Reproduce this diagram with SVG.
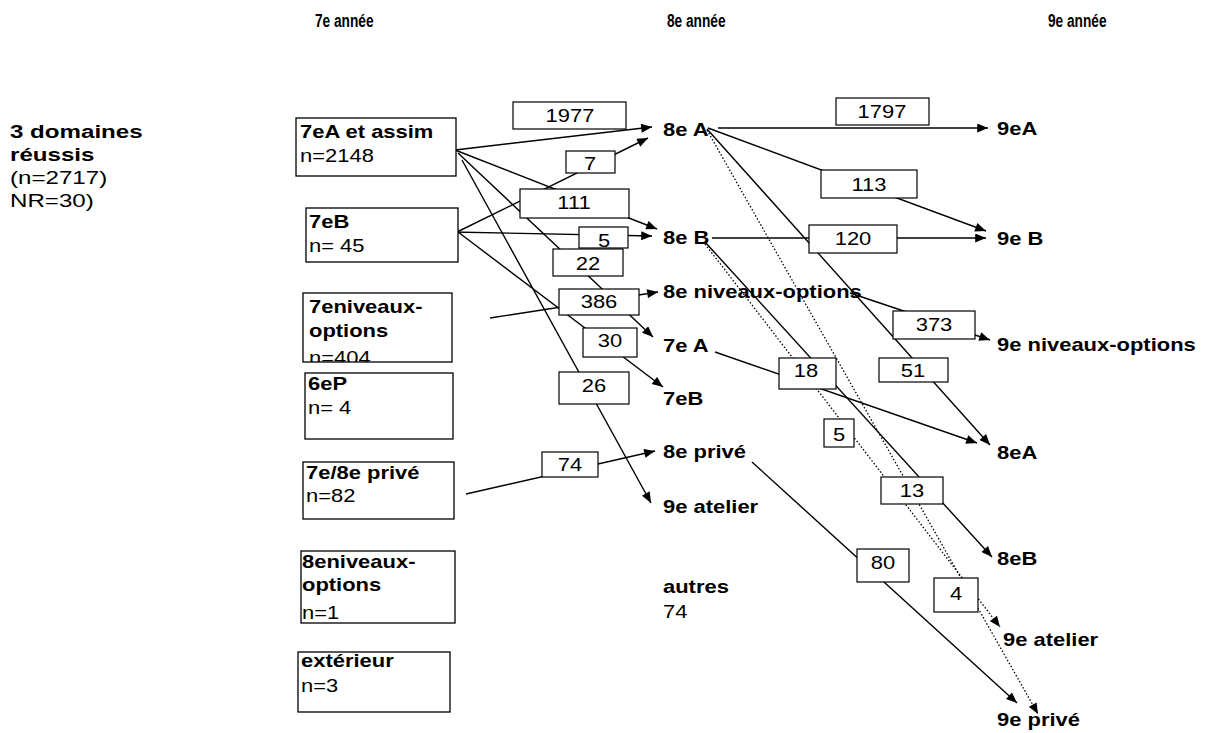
<svg xmlns="http://www.w3.org/2000/svg" width="1210" height="733" viewBox="0 0 1210 733">
<style>
text{font-family:"Liberation Sans",Arial,sans-serif;font-size:18px;fill:#000}
.b{font-weight:bold}
.n{font-weight:normal}
.hd{font-weight:bold;font-size:19px}
.box{fill:#fff;stroke:#000;stroke-width:1.3}
.lbl{fill:#fff;stroke:#000;stroke-width:1.2}
.c{fill:none;stroke:#000;stroke-width:1.4}
.d{fill:none;stroke:#000;stroke-width:1.3;stroke-dasharray:1.5 2}
.m{text-anchor:middle}
</style>
<defs>
<marker id="ah" viewBox="0 0 12 10" refX="12" refY="5" markerWidth="12" markerHeight="9" markerUnits="userSpaceOnUse" orient="auto"><path d="M0,0 L12,5 L0,10 Z" fill="#000"/></marker>
<clipPath id="clip7n"><rect x="303" y="293" width="149" height="69"/></clipPath>
</defs>
<rect x="0" y="0" width="1210" height="733" fill="#fff"/>

<g id="headers">
<text class="hd" transform="translate(315,27) scale(0.72,1)">7e année</text>
<text class="hd" transform="translate(667,27) scale(0.72,1)">8e année</text>
<text class="hd" transform="translate(1048,27) scale(0.72,1)">9e année</text>
</g>

<g id="title">
<text style="font-size:19px" transform="translate(10,138) scale(1.27,1)"><tspan class="b" x="0" y="0">3 domaines</tspan><tspan class="b" x="0" y="23">réussis</tspan><tspan class="n" x="0" y="46">(n=2717)</tspan><tspan class="n" x="0" y="69">NR=30)</tspan></text>
</g>

<g id="connectors">
<path class="c" d="M455,150 L652,127" marker-end="url(#ah)"/>
<path class="c" d="M455,233 L648,138" marker-end="url(#ah)"/>
<path class="c" d="M455,150 L657,229" marker-end="url(#ah)"/>
<path class="c" d="M452,232 L652,236" marker-end="url(#ah)"/>
<path class="c" d="M458,153 L653,337" marker-end="url(#ah)"/>
<path class="c" d="M490,318 L658,292" marker-end="url(#ah)"/>
<path class="c" d="M458,232 L663,387" marker-end="url(#ah)"/>
<path class="c" d="M462,160 L651,503" marker-end="url(#ah)"/>
<path class="c" d="M466,494 L655,451" marker-end="url(#ah)"/>
<path class="c" d="M718,128 L988,128" marker-end="url(#ah)"/>
<path class="c" d="M708,128 L986,231" marker-end="url(#ah)"/>
<path class="c" d="M707,129 L990,445" marker-end="url(#ah)"/>
<path class="d" d="M707,130 L1038,714" marker-end="url(#ah)"/>
<path class="c" d="M712,238 L986,238" marker-end="url(#ah)"/>
<path class="c" d="M705,242 L992,557" marker-end="url(#ah)"/>
<path class="d" d="M705,244 L1000,627" marker-end="url(#ah)"/>
<path class="c" d="M850,293 L990,340" marker-end="url(#ah)"/>
<path class="c" d="M715,352 L977,443" marker-end="url(#ah)"/>
<path class="c" d="M752,462 L1017,703" marker-end="url(#ah)"/>
</g>

<g id="flow-labels">
<rect class="lbl" x="513" y="102" width="113" height="27"/><text class="m" transform="translate(570,122) scale(1.22,1)">1977</text>
<rect class="lbl" x="566" y="151" width="49" height="22"/><text class="m" transform="translate(590,170) scale(1.22,1)">7</text>
<rect class="lbl" x="520" y="189" width="109" height="29"/><text class="m" transform="translate(574,209) scale(1.22,1)">111</text>
<rect class="lbl" x="579" y="227" width="49" height="21"/><text class="m" transform="translate(604,247) scale(1.22,1)">5</text>
<rect class="lbl" x="553" y="249" width="70" height="27"/><text class="m" transform="translate(588,270) scale(1.22,1)">22</text>
<rect class="lbl" x="559" y="289" width="80" height="26"/><text class="m" transform="translate(599,308) scale(1.22,1)">386</text>
<rect class="lbl" x="583" y="328" width="54" height="29"/><text class="m" transform="translate(610,347) scale(1.22,1)">30</text>
<rect class="lbl" x="559" y="372" width="70" height="32"/><text class="m" transform="translate(594,392) scale(1.22,1)">26</text>
<rect class="lbl" x="542" y="452" width="56" height="25"/><text class="m" transform="translate(570,471) scale(1.22,1)">74</text>
<rect class="lbl" x="836" y="98" width="93" height="27"/><text class="m" transform="translate(882,118) scale(1.22,1)">1797</text>
<rect class="lbl" x="821" y="170" width="96" height="28"/><text class="m" transform="translate(869,191) scale(1.22,1)">113</text>
<rect class="lbl" x="809" y="225" width="88" height="28"/><text class="m" transform="translate(853,245) scale(1.22,1)">120</text>
<rect class="lbl" x="893" y="311" width="82" height="28"/><text class="m" transform="translate(934,331) scale(1.22,1)">373</text>
<rect class="lbl" x="779" y="358" width="57" height="31"/><text class="m" transform="translate(806,377) scale(1.22,1)">18</text>
<rect class="lbl" x="879" y="358" width="69" height="24"/><text class="m" transform="translate(913,377) scale(1.22,1)">51</text>
<rect class="lbl" x="824" y="419" width="30" height="28"/><text class="m" transform="translate(839,441) scale(1.22,1)">5</text>
<rect class="lbl" x="881" y="477" width="62" height="27"/><text class="m" transform="translate(912,497) scale(1.22,1)">13</text>
<rect class="lbl" x="857" y="549" width="52" height="33"/><text class="m" transform="translate(883,569) scale(1.22,1)">80</text>
<rect class="lbl" x="934" y="578" width="44" height="34"/><text class="m" transform="translate(956,600) scale(1.22,1)">4</text>
</g>

<g id="n-7eA">
<rect class="box" x="296" y="118" width="160" height="58"/>
<text transform="translate(300,138) scale(1.22,1)"><tspan class="b" x="0" y="0">7eA et assim</tspan><tspan class="n" x="0" y="24">n=2148</tspan></text>
</g>
<g id="n-7eB">
<rect class="box" x="306" y="208" width="152" height="54"/>
<text transform="translate(309,228) scale(1.22,1)"><tspan class="b" x="0" y="0">7eB</tspan><tspan class="n" x="0" y="24">n= 45</tspan></text>
</g>
<g id="n-7eniv">
<rect x="303" y="293" width="149" height="69" fill="#fff"/>
<g clip-path="url(#clip7n)">
<text transform="translate(309,313) scale(1.22,1)"><tspan class="b" x="0" y="0">7eniveaux-</tspan><tspan class="b" x="0" y="24">options</tspan><tspan class="n" x="0" y="51">n=404</tspan></text>
</g>
<rect x="303" y="293" width="149" height="69" fill="none" stroke="#000" stroke-width="1.3"/>
</g>
<g id="n-6eP">
<rect class="box" x="305" y="373" width="148" height="66"/>
<text transform="translate(308,390) scale(1.22,1)"><tspan class="b" x="0" y="0">6eP</tspan><tspan class="n" x="0" y="24">n= 4</tspan></text>
</g>
<g id="n-7e8eprive">
<rect class="box" x="303" y="462" width="151" height="57"/>
<text transform="translate(306,479) scale(1.22,1)"><tspan class="b" x="0" y="0">7e/8e privé</tspan><tspan class="n" x="0" y="23">n=82</tspan></text>
</g>
<g id="n-8eniv">
<rect class="box" x="301" y="551" width="154" height="72"/>
<text transform="translate(302,568) scale(1.22,1)"><tspan class="b" x="0" y="0">8eniveaux-</tspan><tspan class="b" x="0" y="23">options</tspan><tspan class="n" x="0" y="51">n=1</tspan></text>
</g>
<g id="n-exterieur">
<rect class="box" x="298" y="652" width="152" height="60"/>
<text transform="translate(301,667) scale(1.22,1)"><tspan class="b" x="0" y="0">extérieur</tspan><tspan class="n" x="0" y="25">n=3</tspan></text>
</g>

<g id="n-8eA"><text class="b" transform="translate(663,136) scale(1.22,1)">8e A</text></g>
<g id="n-8eB"><text class="b" transform="translate(663,244) scale(1.22,1)">8e B</text></g>
<g id="n-8eniv-mid"><text class="b" transform="translate(663,298) scale(1.22,1)">8e niveaux-options</text></g>
<g id="n-7eA-mid"><text class="b" transform="translate(663,352) scale(1.22,1)">7e A</text></g>
<g id="n-7eB-mid"><text class="b" transform="translate(663,405) scale(1.22,1)">7eB</text></g>
<g id="n-8eprive"><text class="b" transform="translate(663,458) scale(1.22,1)">8e privé</text></g>
<g id="n-9eatelier-mid"><text class="b" transform="translate(663,513) scale(1.22,1)">9e atelier</text></g>
<g id="n-autres"><text transform="translate(663,593) scale(1.22,1)"><tspan class="b" x="0" y="0">autres</tspan><tspan class="n" x="0" y="25">74</tspan></text></g>

<g id="n-9eA"><text class="b" transform="translate(997,135) scale(1.22,1)">9eA</text></g>
<g id="n-9eB"><text class="b" transform="translate(997,245) scale(1.22,1)">9e B</text></g>
<g id="n-9eniv"><text class="b" transform="translate(997,351) scale(1.22,1)">9e niveaux-options</text></g>
<g id="n-8eA-r"><text class="b" transform="translate(997,459) scale(1.22,1)">8eA</text></g>
<g id="n-8eB-r"><text class="b" transform="translate(997,565) scale(1.22,1)">8eB</text></g>
<g id="n-9eatelier"><text class="b" transform="translate(1003,646) scale(1.22,1)">9e atelier</text></g>
<g id="n-9eprive"><text class="b" transform="translate(997,726) scale(1.22,1)">9e privé</text></g>
</svg>
